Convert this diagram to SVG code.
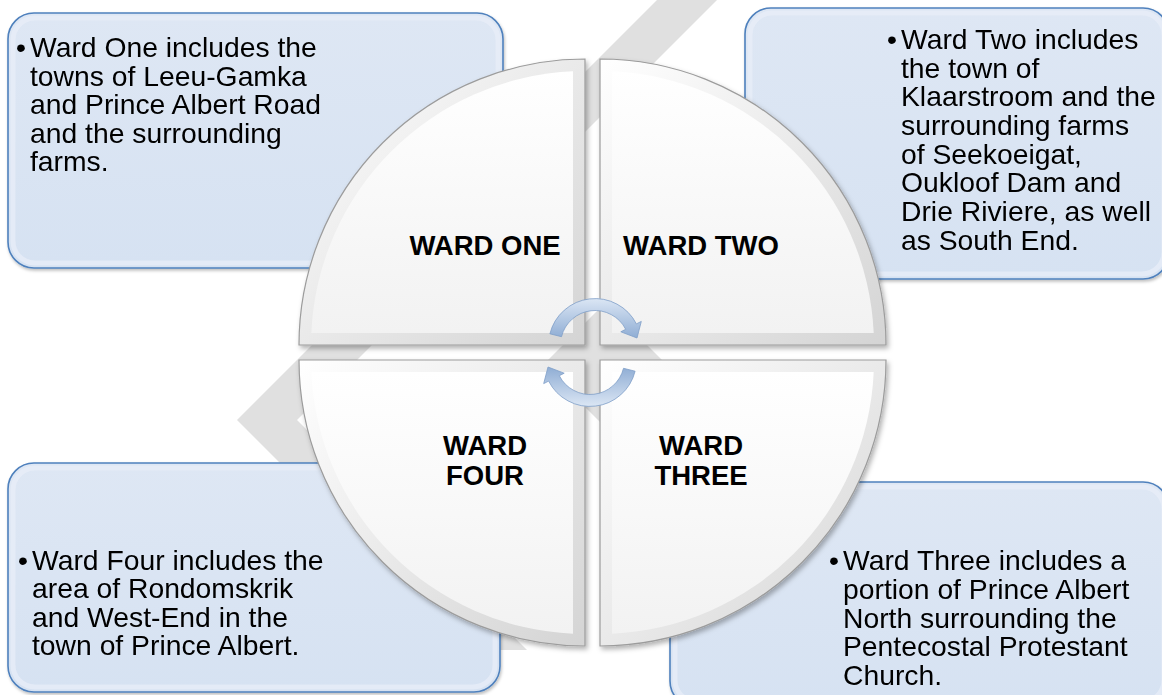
<svg xmlns="http://www.w3.org/2000/svg" width="1162" height="695" viewBox="0 0 1162 695">
<defs>
<style>
.box{fill:url(#boxFill);stroke:#4f81bd;stroke-width:1.6}
.boxIn{fill:none;stroke:#e8eef8;stroke-width:5;opacity:0.75}
.bt{font-family:"Liberation Sans",Arial,sans-serif;font-size:28.3px;fill:#000}
.qt{font-family:"Liberation Sans",Arial,sans-serif;font-size:27.5px;font-weight:bold;fill:#000;text-anchor:middle}
.qOut{fill:url(#quadBevel);stroke:#9c9c9c;stroke-width:1.2}
.qIn{fill:url(#quadFace)}
.wm{fill:#e0e0e0}
.arr{fill:url(#arrowFill);stroke:#7f9ec8;stroke-width:0.8}
</style>
<linearGradient id="boxFill" x1="0" y1="0" x2="0" y2="1">
<stop offset="0" stop-color="#dee7f4"/><stop offset="1" stop-color="#d6e2f2"/>
</linearGradient>
<linearGradient id="quadBevel" x1="0" y1="0" x2="1" y2="1">
<stop offset="0" stop-color="#ffffff"/><stop offset="1" stop-color="#d4d4d4"/>
</linearGradient>
<linearGradient id="quadFace" x1="0" y1="0" x2="0" y2="1">
<stop offset="0" stop-color="#ffffff"/><stop offset="1" stop-color="#f2f2f2"/>
</linearGradient>
<linearGradient id="arrowFill" x1="0" y1="0" x2="0" y2="1">
<stop offset="0" stop-color="#dbe6f4"/><stop offset="1" stop-color="#8fadd4"/>
</linearGradient>
<filter id="shadow" x="-10%" y="-10%" width="120%" height="120%">
<feDropShadow dx="2" dy="3" stdDeviation="2.5" flood-color="#000" flood-opacity="0.3"/>
</filter>
<filter id="boxShadow" x="-5%" y="-5%" width="110%" height="115%">
<feDropShadow dx="1" dy="2" stdDeviation="1.5" flood-color="#000" flood-opacity="0.25"/>
</filter>
</defs>
<rect width="1162" height="695" fill="#ffffff"/>
<g id="watermark">
<polygon class="wm" points="657,0 717,0 297,420 527,650 467,650 237,420"/>
<polygon class="wm" points="605,303 667,365 605,427 543,365"/>
</g>
<g id="box-ward-one" filter="url(#boxShadow)">
<rect class="box" x="8" y="13" width="495" height="255" rx="26"/>
<rect class="boxIn" x="13" y="18" width="485" height="245" rx="22"/>
<text class="bt" x="16" y="57">•</text>
<text class="bt"><tspan x="30" y="57">Ward One includes the</tspan><tspan x="30" y="86">towns of Leeu-Gamka</tspan><tspan x="30" y="114">and Prince Albert Road</tspan><tspan x="30" y="143">and the surrounding</tspan><tspan x="30" y="171">farms.</tspan></text>
</g>
<g id="box-ward-two" filter="url(#boxShadow)">
<rect class="box" x="745" y="8" width="424" height="271" rx="26"/>
<rect class="boxIn" x="750" y="13" width="414" height="261" rx="22"/>
<text class="bt" x="887" y="49">•</text>
<text class="bt"><tspan x="901" y="49">Ward Two includes</tspan><tspan x="901" y="78">the town of</tspan><tspan x="901" y="106">Klaarstroom and the</tspan><tspan x="901" y="135">surrounding farms</tspan><tspan x="901" y="164">of Seekoeigat,</tspan><tspan x="901" y="192">Oukloof Dam and</tspan><tspan x="901" y="221">Drie Riviere, as well</tspan><tspan x="901" y="250">as South End.</tspan></text>
</g>
<g id="box-ward-four" filter="url(#boxShadow)">
<rect class="box" x="8" y="463" width="492" height="229" rx="26"/>
<rect class="boxIn" x="13" y="468" width="482" height="219" rx="22"/>
<text class="bt" x="18" y="570">•</text>
<text class="bt"><tspan x="32" y="570">Ward Four includes the</tspan><tspan x="32" y="598">area of Rondomskrik</tspan><tspan x="32" y="627">and West-End in the</tspan><tspan x="32" y="655">town of Prince Albert.</tspan></text>
</g>
<g id="box-ward-three" filter="url(#boxShadow)">
<rect class="box" x="670" y="482" width="499" height="225" rx="26"/>
<rect class="boxIn" x="675" y="487" width="489" height="215" rx="22"/>
<text class="bt" x="829" y="570">•</text>
<text class="bt"><tspan x="843" y="570">Ward Three includes a</tspan><tspan x="843" y="599">portion of Prince Albert</tspan><tspan x="843" y="628">North surrounding the</tspan><tspan x="843" y="656">Pentecostal Protestant</tspan><tspan x="843" y="685">Church.</tspan></text>
</g>
<g id="quad-ward-one">
<path class="qOut" filter="url(#shadow)" d="M585,345 L299,345 A286,286 0 0 1 585,59 Z"/>
<path class="qIn" d="M573,333 L311.3,333 A274,274 0 0 1 573,71.3 Z"/>
<text class="qt" x="485" y="255">WARD ONE</text>
</g>
<g id="quad-ward-two">
<path class="qOut" filter="url(#shadow)" d="M600,345 L600,59 A286,286 0 0 1 886,345 Z"/>
<path class="qIn" d="M612,333 L612,71.3 A274,274 0 0 1 873.7,333 Z"/>
<text class="qt" x="701" y="255">WARD TWO</text>
</g>
<g id="quad-ward-three">
<path class="qOut" filter="url(#shadow)" d="M600,360 L886,360 A286,286 0 0 1 600,646 Z"/>
<path class="qIn" d="M612,372 L873.7,372 A274,274 0 0 1 612,633.7 Z"/>
<text class="qt"><tspan x="701" y="455">WARD</tspan><tspan x="701" y="485">THREE</tspan></text>
</g>
<g id="quad-ward-four">
<path class="qOut" filter="url(#shadow)" d="M585,360 L585,646 A286,286 0 0 1 299,360 Z"/>
<path class="qIn" d="M573,372 L573,633.7 A274,274 0 0 1 311.3,372 Z"/>
<text class="qt"><tspan x="485" y="455">WARD</tspan><tspan x="485" y="485">FOUR</tspan></text>
</g>
<g id="connectors">
<path class="arr" d="M549.9,333.8 A46.5,46.5 0 0 1 636.4,323.9 L641.3,321.4 L637,338 L620.8,331.8 L625.7,329.3 A34.5,34.5 0 0 0 561.5,336.7 Z"/>
<path class="arr" transform="rotate(180 592.5 352.5)" d="M549.9,333.8 A46.5,46.5 0 0 1 636.4,323.9 L641.3,321.4 L637,338 L620.8,331.8 L625.7,329.3 A34.5,34.5 0 0 0 561.5,336.7 Z"/>
</g>
</svg>
